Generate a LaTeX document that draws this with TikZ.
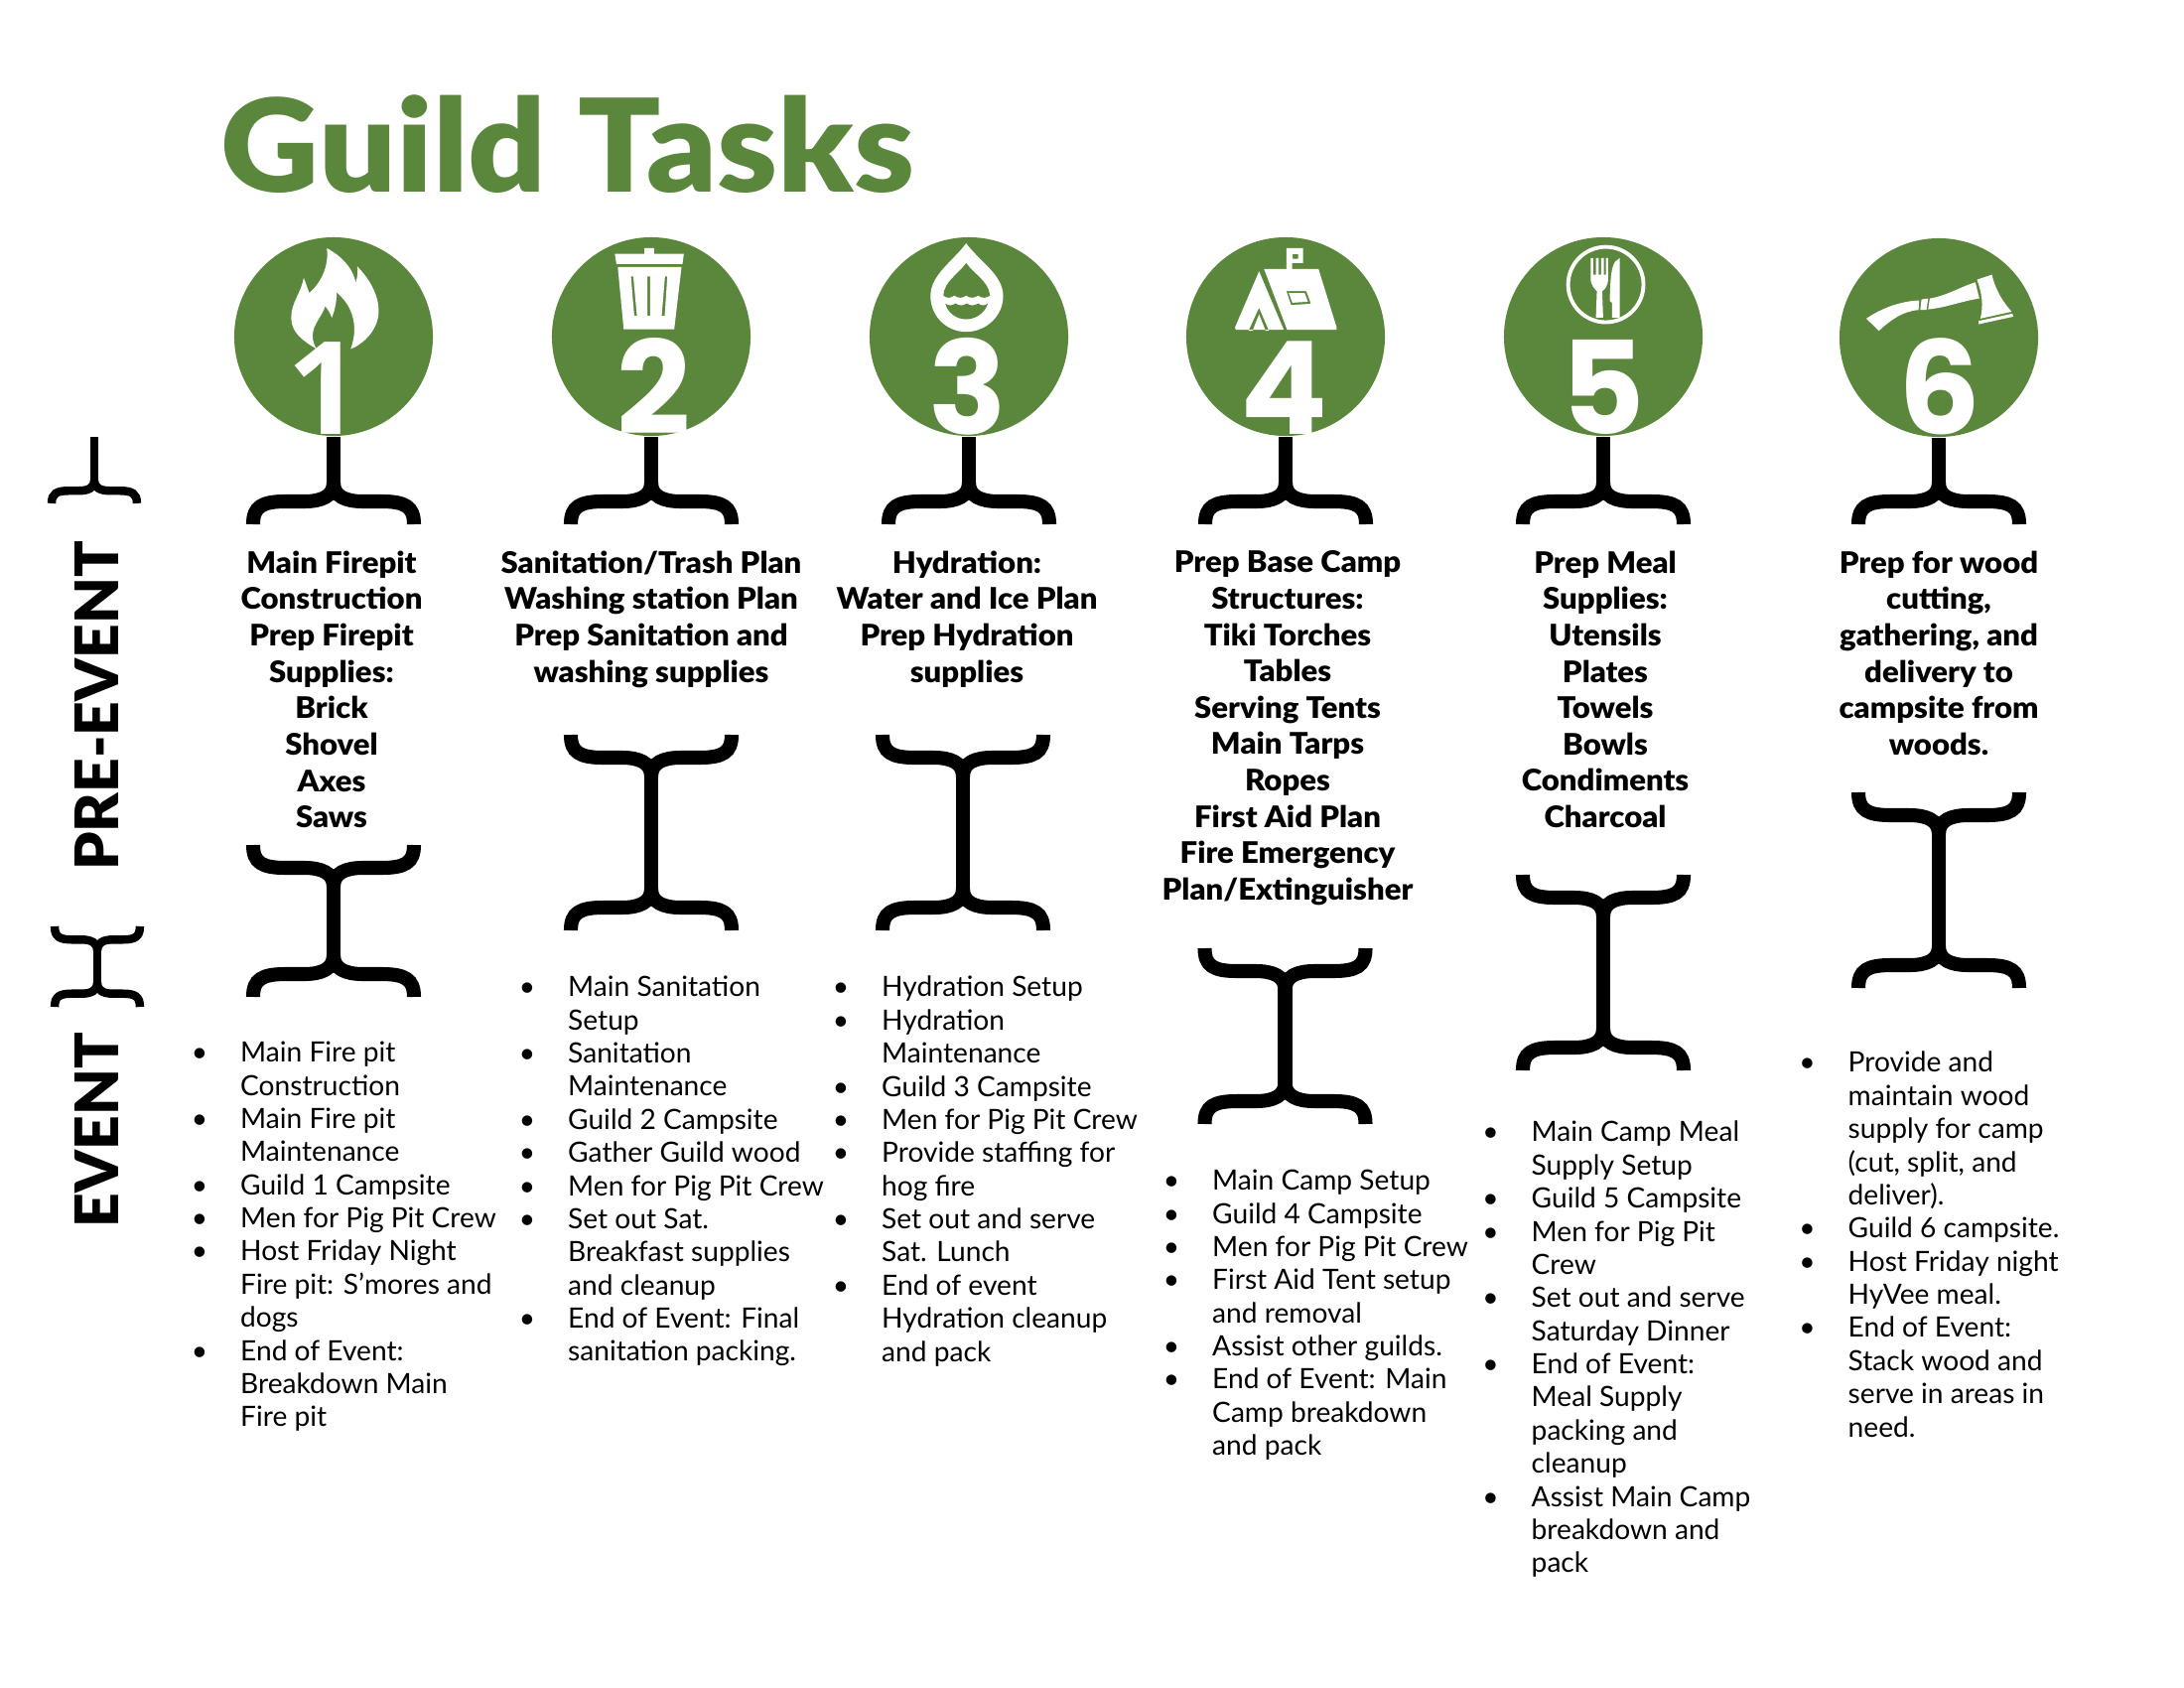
\documentclass[tikz,border=0pt]{standalone}
\usepackage{fontspec}
\setmainfont{Lato}
\newfontfamily\heavyfont{Lato Black}
\newfontfamily\titlefont[FakeStretch=1.055]{Lato Black}
\newfontfamily\headfont[FakeStretch=1.04]{Lato Black}
\newfontfamily\digitfont{Poppins}
\newfontfamily\onefont{Open Sans}
\definecolor{guildgreen}{RGB}{90,135,60}
\newcommand\bul{\leavevmode\llap{\textbullet\hspace{9.4pt}}}
\tikzset{
  pics/bracearms/.style={code={
    \draw (0,-4) .. controls (0,10) and (-12,15) .. (-30,15) -- (-48,15) .. controls (-72,15) and (-81,20) .. (-81,38);
    \draw (0,-4) .. controls (0,10) and (12,15) .. (30,15) -- (48,15) .. controls (72,15) and (81,20) .. (81,38);
  }},
  guildcircle/.style={circle,fill=guildgreen,minimum size=2cm,inner sep=0pt},
  guildnum/.style={anchor=base,text=white,inner sep=0pt,font=\digitfont\bfseries\fontsize{37}{37}\selectfont},
  sidelabel/.style={rotate=90,anchor=base,inner sep=0pt,font=\heavyfont\fontsize{17.2}{17.2}\selectfont},
  taskhead/.style={anchor=north,align=center,inner sep=0pt,font=\headfont\fontsize{8.5}{10.42}\selectfont,execute at begin node=\rule{0pt}{7pt}},
  tasklist/.style={anchor=north west,align=left,inner sep=0pt,font=\fontsize{8}{9.49}\selectfont,execute at begin node=\rule{0pt}{7pt}},
  icon/.style={fill=white,even odd rule},
  hole/.style={fill=guildgreen}
}
\begin{document}
\begin{tikzpicture}[x=.01cm,y=-.01cm]
  \useasboundingbox (0,0) rectangle (2200,1700);
  \node[anchor=base west,inner sep=0pt,text=guildgreen,font=\titlefont\fontsize{37}{37}\selectfont] (title) at (222,194) {Guild Tasks};
  % circles with the stem and fork below each one
  \foreach \n/\cx/\cy/\numx/\num in {1/336/339/327/{\onefont\bfseries 1},2/656/339/659/2,3/976/339/975/3,4/1295/339/1294/4,5/1615/339/1615/5,6/1953/340/1954/6}{
    \node[guildcircle] (guild\n) at (\cx,\cy) {};
    \node[guildnum] (num\n) at (\numx,437) {\num};
    \coordinate (fork\n) at (\cx,490);
    \draw[line width=4pt] (guild\n.south) -- (fork\n);
    \pic[line width=4pt] at (fork\n) {bracearms};
  }
  % the bars between the headings and the lists
  \foreach \n/\cx/\ytop/\ybot in {1/336/851/1004,2/656/740/937,3/970/740/937,4/1294.5/955/1132,5/1615/881/1078,6/1953/798/995}{
    \coordinate (up\n) at (\cx,\ytop+38);
    \coordinate (dn\n) at (\cx,\ybot-38);
    \draw[line width=4pt] (up\n) -- (dn\n);
    \pic[line width=4pt,yscale=-1] at (up\n) {bracearms};
    \pic[line width=4pt] at (dn\n) {bracearms};
  }
  % left side
  \coordinate (sidetop) at (95,440);
  \coordinate (sidefork) at (95,486);
  \draw[line width=2.4pt] (sidetop) -- (sidefork);
  \pic[line width=2.4pt,xscale=.53,yscale=.55] at (sidefork) {bracearms};
  \coordinate (sideup) at (98,955);
  \coordinate (sidedn) at (98,992);
  \draw[line width=2.4pt] (sideup) -- (sidedn);
  \pic[line width=2.4pt,xscale=.53,yscale=-.58] at (sideup) {bracearms};
  \pic[line width=2.4pt,xscale=.53,yscale=.58] at (sidedn) {bracearms};
  \node[sidelabel] (preevent) at (120,711) {PRE-EVENT};
  \node[sidelabel] (event) at (120,1138) {EVENT};
  % flame
  \begin{scope}[shift={(270,235)},x=.00333cm,y=-.00333cm]
    \fill[icon] (178,45) .. controls (235,75) and (262,120) .. (265,150) .. controls (272,130) and (272,115) .. (270,100) .. controls (310,140) and (335,190) .. (335,235) .. controls (335,290) and (290,335) .. (250,350) .. controls (265,310) and (265,270) .. (250,235) .. controls (240,210) and (225,195) .. (208,178) .. controls (208,210) and (200,240) .. (193,255) .. controls (188,240) and (180,230) .. (173,220) .. controls (165,250) and (135,275) .. (135,310) .. controls (135,325) and (140,340) .. (147,350) .. controls (105,325) and (70,300) .. (70,255) .. controls (70,210) and (100,180) .. (108,135) .. controls (115,150) and (120,170) .. (125,180) .. controls (160,150) and (185,100) .. (178,45) -- cycle;
  \end{scope}
  % trash can
  \begin{scope}[shift={(590,235)},x=.00333cm,y=-.00333cm]
    \fill[icon] (178,45) -- (207,45) -- (207,62) -- (297,62) -- (293,93) -- (93,93) -- (88,62) -- (178,62) -- cycle;
    \fill[icon] (97,102) -- (290,102) -- (268,290) -- (115,290) -- cycle
      (137,130) -- (144,130) -- (155,250) -- (147,250) -- cycle
      (187,130) -- (195,130) -- (195,250) -- (187,250) -- cycle
      (240,130) -- (247,130) -- (239,250) -- (230,250) -- cycle;
  \end{scope}
  % water drop
  \begin{scope}[shift={(910,235)},x=.00333cm,y=-.00333cm]
    \fill[icon] (190,30) .. controls (230,85) and (302,125) .. (302,190) .. controls (302,250) and (250,298) .. (190,298) .. controls (130,298) and (82,250) .. (82,190) .. controls (82,125) and (150,85) .. (190,30) -- cycle;
    \fill[hole] (190,90) .. controls (215,125) and (258,145) .. (262,188) .. controls (250,197) and (238,197) .. (226,188) .. controls (214,197) and (202,197) .. (190,188) .. controls (178,197) and (166,197) .. (154,188) .. controls (142,197) and (130,197) .. (121,188) .. controls (124,145) and (165,125) .. (190,90) -- cycle;
    \fill[hole] (127,212) .. controls (136,220) and (146,220) .. (158,212) .. controls (170,220) and (180,220) .. (192,212) .. controls (204,220) and (214,220) .. (226,212) .. controls (236,220) and (246,220) .. (256,212) .. controls (245,245) and (215,260) .. (190,260) .. controls (165,260) and (135,245) .. (127,212) -- cycle;
  \end{scope}
  % tent
  \begin{scope}[shift={(1230,235)},x=.00333cm,y=-.00333cm]
    \fill[icon] (198,45) -- (248,45) -- (248,90) -- (215,90) -- (215,108) -- (198,108) -- cycle
      (217,63) -- (233,63) -- (233,77) -- (217,77) -- cycle;
    \fill[icon] (130,108) -- (295,108) -- (350,285) -- (350,292) -- (200,292) -- cycle
      (198,175) -- (258,175) -- (272,213) -- (212,217) -- cycle
      (205,181) -- (253,181) -- (263,207) -- (216,210) -- cycle;
    \fill[icon] (115,115) -- (190,292) -- (45,292) -- (42,285) -- cycle
      (115,225) -- (145,295) -- (135,295) -- (115,245) -- (95,295) -- (83,295) -- cycle;
  \end{scope}
  % plate with fork and knife
  \begin{scope}[shift={(1550,235)},x=.00333cm,y=-.00333cm]
    \draw[white,line width=1.1pt] (203,155) circle[radius=114];
    \fill[icon] (157,75) -- (157,135) .. controls (157,160) and (172,170) .. (176,175) -- (173,255) -- (195,255) -- (192,175) .. controls (200,170) and (210,160) .. (210,135) -- (210,75) -- (203,75) -- (203,125) -- (197,125) -- (197,75) -- (189,75) -- (189,125) -- (181,125) -- (181,75) -- (173,75) -- (173,125) -- (165,125) -- (165,75) -- cycle;
    \fill[icon] (245,75) .. controls (225,85) and (217,100) .. (215,205) -- (222,210) -- (222,255) -- (245,255) -- cycle;
  \end{scope}
  % axe
  \begin{scope}[shift={(1870,235)},x=.00333cm,y=-.00333cm]
    \fill[icon] (30,258) .. controls (70,230) and (130,205) .. (190,203) -- (188,232) .. controls (140,235) and (100,265) .. (68,295) -- cycle;
    \fill[icon] (197,200) -- (217,197) -- (212,232) -- (193,232) -- cycle;
    \fill[icon] (222,197) .. controls (270,190) and (320,160) .. (360,148) -- (372,197) .. controls (320,205) and (270,225) .. (217,230) -- cycle;
    \fill[icon] (365,140) -- (410,125) .. controls (420,170) and (445,210) .. (470,237) -- (375,258) .. controls (385,220) and (380,180) .. (365,140) -- cycle;
    \fill[icon] (370,265) -- (472,243) -- (475,252) -- (370,275) -- cycle;
  \end{scope}
  % headings
  \node[taskhead] (head1) at (334,554) {Main Firepit\\Construction\\Prep Firepit\\Supplies:\\Brick\\Shovel\\Axes\\Saws};
  \node[taskhead] (head2) at (656,554) {Sanitation/Trash Plan\\Washing station Plan\\Prep Sanitation and\\washing supplies};
  \node[taskhead] (head3) at (974,554) {Hydration:\\Water and Ice Plan\\Prep Hydration\\supplies};
  \node[taskhead] (head4) at (1297,554) {Prep Base Camp\\Structures:\\Tiki Torches\\Tables\\Serving Tents\\Main Tarps\\Ropes\\First Aid Plan\\Fire Emergency\\Plan/Extinguisher};
  \node[taskhead] (head5) at (1617,554) {Prep Meal\\Supplies:\\Utensils\\Plates\\Towels\\Bowls\\Condiments\\Charcoal};
  \node[taskhead] (head6) at (1953,554) {Prep for wood\\cutting,\\gathering, and\\delivery to\\campsite from\\woods.};
  % lists
  \node[tasklist] (list1) at (241.5,1048.5) {\bul Main Fire pit\\Construction\\\bul Main Fire pit\\Maintenance\\\bul Guild 1 Campsite\\\bul Men for Pig Pit Crew\\\bul Host Friday Night\\Fire pit: S'mores and\\dogs\\\bul End of Event:\\Breakdown Main\\Fire pit};
  \node[tasklist] (list2) at (571.5,982.5) {\bul Main Sanitation\\Setup\\\bul Sanitation\\Maintenance\\\bul Guild 2 Campsite\\\bul Gather Guild wood\\\bul Men for Pig Pit Crew\\\bul Set out Sat.\\Breakfast supplies\\and cleanup\\\bul End of Event: Final\\sanitation packing.};
  \node[tasklist] (list3) at (887.5,982.5) {\bul Hydration Setup\\\bul Hydration\\Maintenance\\\bul Guild 3 Campsite\\\bul Men for Pig Pit Crew\\\bul Provide staffing for\\hog fire\\\bul Set out and serve\\Sat. Lunch\\\bul End of event\\Hydration cleanup\\and pack};
  \node[tasklist] (list4) at (1220.5,1177.5) {\bul Main Camp Setup\\\bul Guild 4 Campsite\\\bul Men for Pig Pit Crew\\\bul First Aid Tent setup\\and removal\\\bul Assist other guilds.\\\bul End of Event: Main\\Camp breakdown\\and pack};
  \node[tasklist] (list5) at (1542,1128.5) {\bul Main Camp Meal\\Supply Setup\\\bul Guild 5 Campsite\\\bul Men for Pig Pit\\Crew\\\bul Set out and serve\\Saturday Dinner\\\bul End of Event:\\Meal Supply\\packing and\\cleanup\\\bul Assist Main Camp\\breakdown and\\pack};
  \node[tasklist] (list6) at (1861,1058.5) {\bul Provide and\\maintain wood\\supply for camp\\(cut, split, and\\deliver).\\\bul Guild 6 campsite.\\\bul Host Friday night\\HyVee meal.\\\bul End of Event:\\Stack wood and\\serve in areas in\\need.};
\end{tikzpicture}
\end{document}
